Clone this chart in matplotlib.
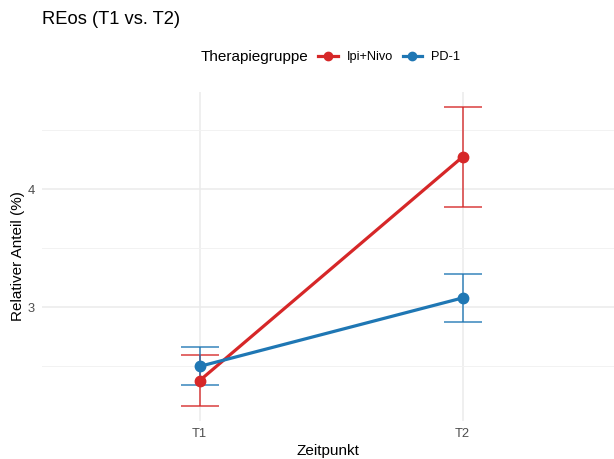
import matplotlib
matplotlib.use("Agg")
import matplotlib.pyplot as plt
from matplotlib.lines import Line2D
import numpy as np

plt.rcParams["font.family"] = ["Liberation Sans", "DejaVu Sans"]

zeitpunkte = ["T1", "T2"]
gruppen = ["Ipi+Nivo", "PD-1"]
mittel = {
    "Ipi+Nivo": [2.38, 4.275],
    "PD-1": [2.50, 3.08],
}
unten = {
    "Ipi+Nivo": [2.165, 3.853],
    "PD-1": [2.34, 2.877],
}
oben = {
    "Ipi+Nivo": [2.60, 4.698],
    "PD-1": [2.662, 3.285],
}
farben = {"Ipi+Nivo": "#d62728", "PD-1": "#1f77b4"}

fig = plt.figure(figsize=(6.14, 4.59), dpi=100)
ax = fig.add_axes([42 / 614, 38 / 459, 572 / 614, 329 / 459])

x = np.arange(1, len(zeitpunkte) + 1)
for g in gruppen:
    m = np.array(mittel[g])
    lo = m - np.array(unten[g])
    hi = np.array(oben[g]) - m
    ax.errorbar(x, m, yerr=[lo, hi], fmt="none", ecolor=farben[g],
                elinewidth=1.4, capsize=14, capthick=1.4, alpha=0.7, zorder=2)
    ax.plot(x, m, color=farben[g], linewidth=2.3, marker="o",
            markersize=7.5, zorder=3)

ax.set_xlim(0.4, 2.576)
ax.set_ylim(2.037, 4.825)
ax.set_xticks(x)
ax.set_xticklabels(zeitpunkte)
ax.set_yticks([3, 4])
ax.set_yticks([2.5, 3.5, 4.5], minor=True)
ax.grid(which="major", color="#ebebeb", linewidth=1.1)
ax.grid(which="minor", axis="y", color="#f2f2f2", linewidth=0.7)
ax.set_axisbelow(True)
for s in ax.spines.values():
    s.set_visible(False)
ax.tick_params(which="both", length=0, labelsize=9.3, labelcolor="#4d4d4d", pad=5)

ax.set_xlabel("Zeitpunkt", fontsize=11, labelpad=3)
ax.set_ylabel("Relativer Anteil (%)", fontsize=11, labelpad=2)

fig.text(42 / 614, 1 - 19 / 459, "REos (T1 vs. T2)", fontsize=13.2,
         ha="left", va="center")
fig.text(201 / 614, 1 - 57 / 459, "Therapiegruppe", fontsize=11,
         ha="left", va="center")
handles = [Line2D([], [], color=farben[g], linewidth=2.3, marker="o", markersize=6)
           for g in gruppen]
fig.legend(handles, gruppen, loc="center left", bbox_to_anchor=(318 / 614, 1 - 57 / 459),
           ncol=2, frameon=False, fontsize=9.2, handlelength=1.55,
           handletextpad=0.7, columnspacing=0.75, borderpad=0, borderaxespad=0)

fig.savefig("out.png", dpi=100, facecolor="white")
